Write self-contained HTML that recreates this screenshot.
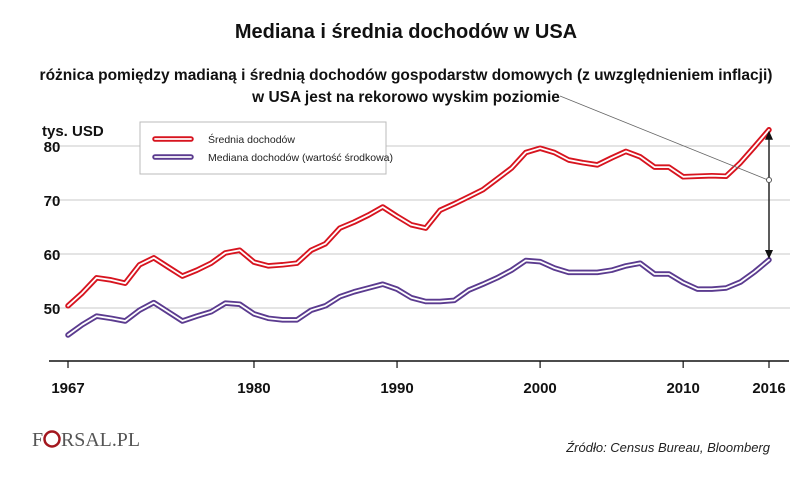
<!DOCTYPE html>
<html><head><meta charset="utf-8"><style>
body{margin:0;background:#fff;width:805px;height:485px;overflow:hidden;font-family:"Liberation Sans",sans-serif}
svg{display:block}
</style></head><body>
<svg id="chart" width="805" height="485">
<text x="406" y="38" text-anchor="middle" font-size="20" font-weight="bold" fill="#111">Mediana i średnia dochodów w USA</text>
<text x="406" y="80" text-anchor="middle" font-size="15.5" font-weight="bold" fill="#111">różnica pomiędzy madianą i średnią dochodów gospodarstw domowych (z uwzględnieniem inflacji)</text>
<text x="406" y="102" text-anchor="middle" font-size="15.5" font-weight="bold" fill="#111">w USA jest na rekorowo wyskim poziomie</text>
<text x="42" y="136" font-size="15" font-weight="bold" fill="#111">tys. USD</text>
<g id="grid"></g>
<g id="yticks"></g>
<line x1="49" y1="361" x2="789" y2="361" stroke="#111" stroke-width="1.5"/>
<g id="xticks"></g>
<g id="series"></g>
<line x1="560" y1="96" x2="768" y2="180" stroke="#666" stroke-width="0.8"/>
<g id="arrow"></g>
<g>
<rect x="140" y="122" width="246" height="52" fill="#fff" stroke="#bbb"/>
<line x1="155" y1="139" x2="191" y2="139" stroke="#d7141f" stroke-width="5.5" stroke-linecap="round"/>
<line x1="155" y1="139" x2="191" y2="139" stroke="#fff" stroke-width="1.8" stroke-linecap="round"/>
<text x="208" y="143" font-size="10.5" fill="#222">Średnia dochodów</text>
<line x1="155" y1="157" x2="191" y2="157" stroke="#5b3b8f" stroke-width="5.5" stroke-linecap="round"/>
<line x1="155" y1="157" x2="191" y2="157" stroke="#fff" stroke-width="1.8" stroke-linecap="round"/>
<text x="208" y="161" font-size="10.5" fill="#222">Mediana dochodów (wartość środkowa)</text>
</g>
<g>
<text x="32" y="446" font-family="Liberation Serif,serif" font-size="20" fill="#555" textLength="12">F</text>
<circle cx="52" cy="439" r="7.5" fill="none" stroke="#a3171e" stroke-width="2.5"/>
<text x="61" y="446" font-family="Liberation Serif,serif" font-size="20" fill="#555" textLength="79" lengthAdjust="spacingAndGlyphs">RSAL.PL</text>
</g>
<text x="770" y="452" text-anchor="end" font-size="13" font-style="italic" fill="#222">Źródło:  Census Bureau, Bloomberg</text>
</svg>
<script>
const years=[1967,1968,1969,1970,1971,1972,1973,1974,1975,1976,1977,1978,1979,1980,1981,1982,1983,1984,1985,1986,1987,1988,1989,1990,1991,1992,1993,1994,1995,1996,1997,1998,1999,2000,2001,2002,2003,2004,2005,2006,2007,2008,2009,2010,2011,2012,2013,2014,2015,2016];
const meanIncome=[50.4,52.8,55.6,55.2,54.6,58.0,59.3,57.6,55.9,57.0,58.3,60.2,60.7,58.5,57.8,58.0,58.3,60.7,61.9,64.8,65.9,67.2,68.7,67.0,65.4,64.8,68.1,69.3,70.6,71.9,73.9,75.9,78.8,79.6,78.8,77.4,76.9,76.5,77.8,79.0,78.0,76.1,76.1,74.3,74.4,74.5,74.4,76.9,79.9,83.0];
const medianIncome=[45.0,46.9,48.5,48.1,47.6,49.6,51.0,49.3,47.6,48.5,49.3,50.9,50.7,48.9,48.1,47.8,47.8,49.6,50.4,52.1,53.0,53.7,54.4,53.5,51.9,51.2,51.2,51.4,53.3,54.4,55.6,57.0,58.8,58.6,57.4,56.6,56.6,56.6,57.0,57.8,58.3,56.3,56.3,54.7,53.5,53.5,53.7,54.8,56.7,58.9];
const yTicks=[50,60,70,80];
const xTickLabels=[1967,1980,1990,2000,2010,2016];
const NS="http://www.w3.org/2000/svg";
function X(yr){return 68+(yr-1967)*(769-68)/49;}
function Y(v){return 146+(80-v)*5.4;}
function mk(tag,attrs,parent){const e=document.createElementNS(NS,tag);for(const k in attrs)e.setAttribute(k,attrs[k]);parent.appendChild(e);return e;}
const grid=document.getElementById('grid'),yt=document.getElementById('yticks'),xt=document.getElementById('xticks'),ser=document.getElementById('series'),ar=document.getElementById('arrow');
yTicks.forEach(v=>{
 const l=mk('line',{x1:48,x2:790,y1:Y(v),y2:Y(v),stroke:'#c8c8c8','stroke-width':1},grid);
 
 
 const t=mk('text',{x:52,y:Y(v)+6,'text-anchor':'middle','font-size':15,'font-weight':'bold',fill:'#111'},yt);
 t.textContent=v;
 
 
});
xTickLabels.forEach(yr=>{
 const l=mk('line',{x1:X(yr),x2:X(yr),y1:361,y2:368,stroke:'#111','stroke-width':1.2},xt);
 
 
 const t=mk('text',{x:X(yr),y:393,'text-anchor':'middle','font-size':15,'font-weight':'bold',fill:'#111'},xt);
 t.textContent=yr;
 
 
});
function drawSeries(vals,color,name){
 const d=vals.map((v,i)=>(i?'L':'M')+X(years[i]).toFixed(1)+','+Y(v).toFixed(1)).join(' ');
 const g=mk('g',{},ser);
 
 
 mk('path',{d:d,fill:'none',stroke:color,'stroke-width':5.5,'stroke-linejoin':'round','stroke-linecap':'round'},g);
 mk('path',{d:d,fill:'none',stroke:'#fff','stroke-width':1.8,'stroke-linejoin':'round','stroke-linecap':'round'},g);
}
drawSeries(meanIncome,'#d7141f','mean-income-line');
drawSeries(medianIncome,'#5b3b8f','median-income-line');
const last=years.length-1,ax=X(years[last]),y1=Y(meanIncome[last]),y2=Y(medianIncome[last]);
const al=mk('line',{x1:ax,x2:ax,y1:y1+8,y2:y2-8,stroke:'#333','stroke-width':1.6},ar);


mk('polygon',{points:`${ax},${y1+1} ${ax-4},${y1+10} ${ax+4},${y1+10}`,fill:'#111'},ar);
mk('polygon',{points:`${ax},${y2-1} ${ax-4},${y2-10} ${ax+4},${y2-10}`,fill:'#111'},ar);
const c=mk('circle',{cx:ax,cy:180,r:2.5,fill:'#fff',stroke:'#555','stroke-width':1},ar);


</script>
</body></html>
